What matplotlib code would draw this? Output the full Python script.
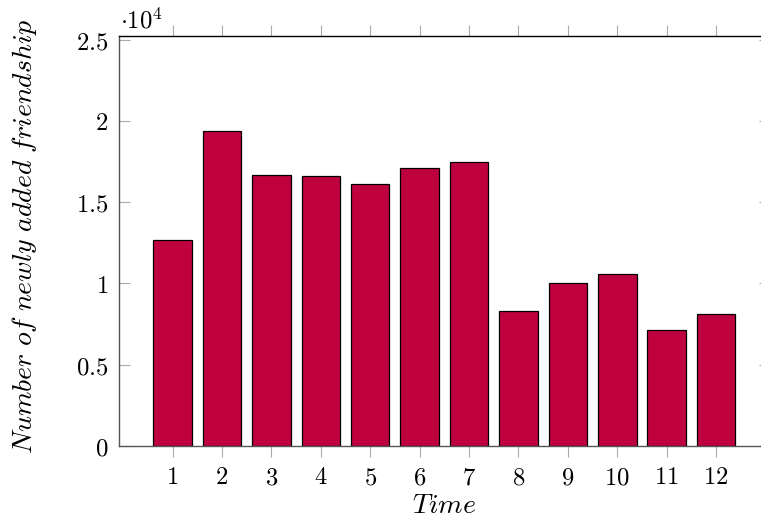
import matplotlib
matplotlib.use("Agg")
import matplotlib.pyplot as plt

plt.rcParams["mathtext.fontset"] = "cm"

times = [1, 2, 3, 4, 5, 6, 7, 8, 9, 10, 11, 12]
new_friendships = [12660, 19360, 16680, 16620, 16130, 17110, 17480,
                   8300, 10020, 10570, 7110, 8110]
y_ticks = [0, 5000, 10000, 15000, 20000, 25000]
y_tick_labels = ["0", "0.5", "1", "1.5", "2", "2.5"]

W, H = 761, 519
fig = plt.figure(figsize=(W / 100, H / 100), dpi=100)
ax = fig.add_axes([118.7 / W, (H - 445.7) / H, (770 - 118.7) / W, (445.7 - 35.7) / H])

ax.bar(times, new_friendships, width=0.78, color="#BE003F",
       edgecolor="black", linewidth=0.9, zorder=2)

ax.set_xlim(-0.09, 13.09)
ax.set_ylim(0, 25250)

ax.set_xticks(times)
ax.set_xticklabels([f"${t}$" for t in times])
ax.set_yticks(y_ticks)
ax.set_yticklabels([f"${s}$" for s in y_tick_labels])

ax.tick_params(axis="x", direction="out", length=8, width=0.8, color="#aaaaaa",
               labelsize=17.8, pad=6, top=True)
ax.tick_params(axis="y", direction="in", length=8, width=0.8, color="#aaaaaa",
               labelsize=17.8, pad=7.5, right=True)

for side in ["left", "bottom"]:
    ax.spines[side].set_color("#555555")
ax.spines["top"].set_color("black")
for sp in ax.spines.values():
    sp.set_linewidth(1.0)

ax.set_xlabel(r"$Time$", fontsize=20)
ax.set_ylabel(r"$Number\ of\ newly\ added\ friendship$", fontsize=20)
ax.xaxis.set_label_coords(0.5, -0.11)
ax.yaxis.set_label_coords(-0.122, 0.51)

ax.text(0.002, 1.005, r"$\cdot 10^{4}$", transform=ax.transAxes,
        ha="left", va="bottom", fontsize=17.8)

fig.savefig("out.png", dpi=100)
